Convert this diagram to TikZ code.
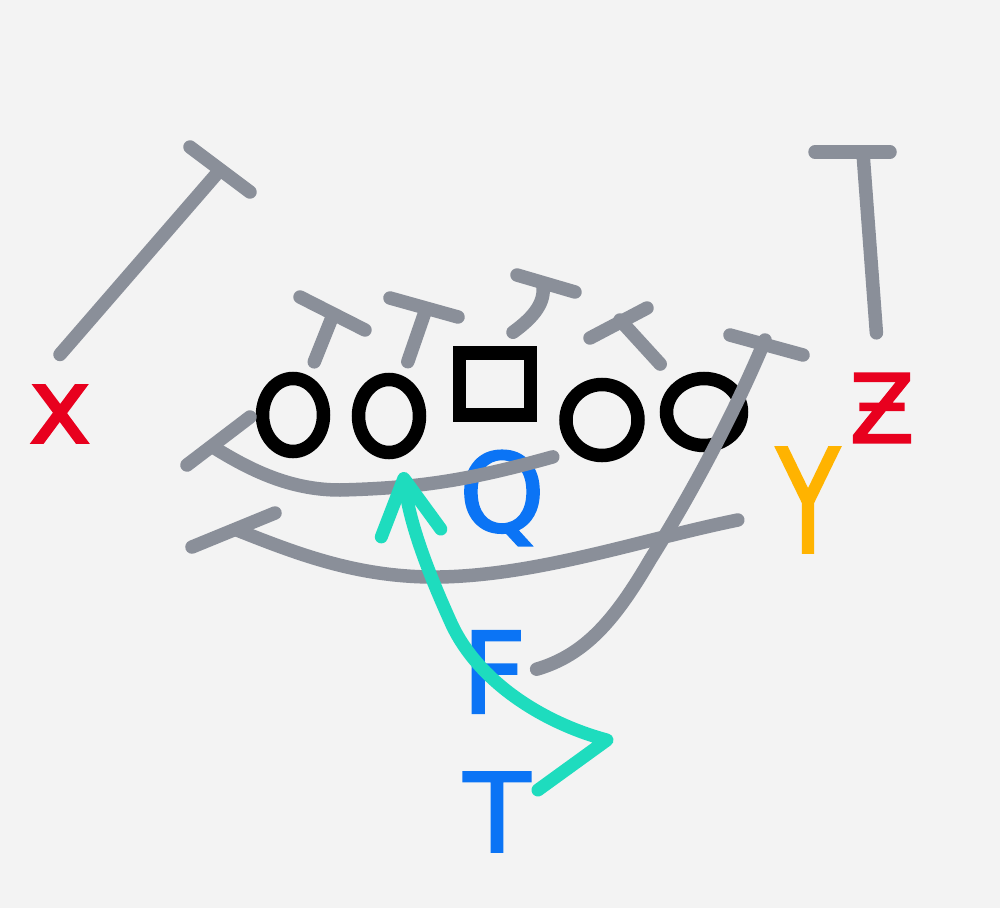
\documentclass[tikz,border=0pt]{standalone}
\usepackage{fontspec}
\newfontfamily\markerfont[FakeBold=2]{DejaVu Sans}
\usetikzlibrary{arrows.meta, shapes.geometric}
\definecolor{paper}{HTML}{F3F3F3}
\definecolor{routegray}{HTML}{8A8F99}
\definecolor{wrred}{HTML}{E8001E}
\definecolor{backblue}{HTML}{0B74F5}
\definecolor{motiongreen}{HTML}{1EDCBE}
\definecolor{teyellow}{HTML}{FFB300}
\tikzset{
  route/.style={draw=routegray, line width=1.35mm, line cap=round, line join=round},
  motion/.style={draw=motiongreen, line width=1.3mm, line cap=round, line join=round,
    -{Straight Barb[length=5.5mm, width=6mm, round]}},
  lineman/.style={ellipse, draw=black, line width=1.35mm, minimum width=6.1mm, minimum height=7.3mm, inner sep=0pt},
  snapper/.style={rectangle, draw=black, line width=1.35mm, minimum width=7.1mm, minimum height=6.2mm, inner sep=0pt},
  player/.style 2 args={text=#1, font=\markerfont\fontsize{#2}{#2}\selectfont, inner sep=0pt},
}

\begin{document}
\begin{tikzpicture}[x=0.1mm, y=-0.1mm]
  \fill[paper] (0,0) rectangle (1000,908);
  \useasboundingbox (0,0) rectangle (1000,908);
%% offensive line
  \node[lineman] (ol1) at (293,415) {};
  \node[lineman] (ol2) at (389,416) {};
  \node[snapper] (ctr) at (495,384) {};
  \node[lineman, minimum width=7.2mm, minimum height=7.1mm] (ol3) at (602,420) {};
  \node[lineman, minimum width=7.5mm, minimum height=6.7mm] (ol4) at (704,412) {};
%% backs and receivers
  \node[player={wrred}{30}] (X) at (60,414) {x};
  \node[player={wrred}{27}] (Z) at (882,408) {Ƶ};
  \node[player={teyellow}{41}, xscale=0.72, transform shape] (Y) at (808,500) {Y};
  \node[player={backblue}{31}] (Q) at (502,498) {Q};
  \node[player={backblue}{32}] (F) at (494,672) {F};
  \node[player={backblue}{31}] (T) at (497,812) {T};
%% route ends
  \coordinate (xEnd) at (220,170);
  \coordinate (zEnd) at (863,153);
  \coordinate (b1) at (333,315);
  \coordinate (b2) at (425,312);
  \coordinate (b3) at (543,287);
  \coordinate (b4) at (620,320);
  \coordinate (fEnd) at (765,340);
  \coordinate (trapEnd) at (213,447);
  \coordinate (yEnd) at (237,530);
  \coordinate (tEnd) at (403,472);
%% receivers
  \draw[route] ([yshift=3mm]X.north) -- (xEnd);
  \draw[route] (190,147) -- (250,192);
  \draw[route, shorten <=4mm] (Z) -- (zEnd);
  \draw[route] (815,152) -- (890,152);
%% line blocks
  \draw[route, shorten <=1.5mm] (ol1) -- (b1);
  \draw[route] (300,297) -- (365,330);
  \draw[route, shorten <=1.5mm] (ol2) -- (b2);
  \draw[route] (390,298) -- (458,317);
  \draw[route] ([xshift=1.8mm, yshift=1.4mm]ctr.north) .. controls (530,320) and (545,305) .. (b3);
  \draw[route] (517,275) -- (575,292);
  \draw[route, shorten <=2.3mm] (ol4) -- (b4);
  \draw[route] (590,338) -- (647,308);
%% pullers
  \draw[route] ([shift={(-19,7)}]ol3.south west) .. controls (470,480) and (420,488) .. (340,490)
    .. controls (290,490) and (250,470) .. (trapEnd);
  \draw[route] (187,465) -- (250,417);
  \draw[route] ([shift={(-38,20)}]Y.west) .. controls (640,540) and (540,575) .. (440,577)
    .. controls (360,578) and (300,555) .. (yEnd);
  \draw[route] (192,547) -- (275,513);
%% fullback
  \draw[route, shorten <=1mm] (F.east) .. controls (585,655) and (615,620) .. (650,560)
    .. controls (700,480) and (740,400) .. (fEnd);
  \draw[route] (730,335) -- (803,355);
%% tailback
  \draw[motion] ([shift={(7,-22)}]T.east) -- (607,740) .. controls (540,722) and (478,680) .. (452,625)
    .. controls (428,572) and (410,525) .. (tEnd);
\end{tikzpicture}
\end{document}
